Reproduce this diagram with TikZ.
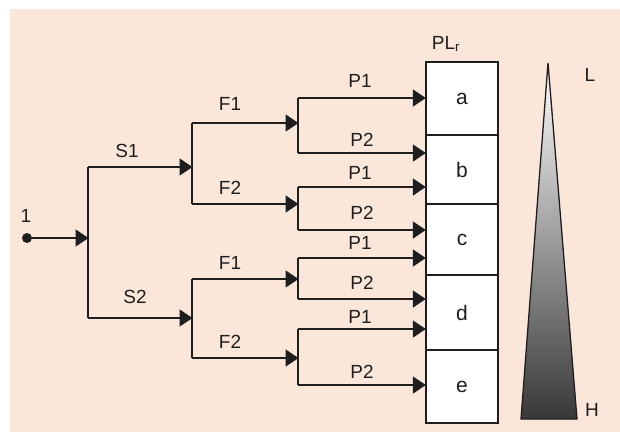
\documentclass[tikz,border=0pt]{standalone}
\usepackage{fontspec}
\setmainfont{Liberation Sans}
\usetikzlibrary{arrows.meta}
\definecolor{peach}{RGB}{251,230,218}
\definecolor{ink}{RGB}{30,30,30}
\tikzset{
  lbl/.style={font=\fontsize{19}{22}\selectfont, text=ink, inner sep=0pt},
  cellname/.style={font=\fontsize{21}{24}\selectfont, text=ink, inner sep=0pt},
  wire/.style={draw=ink, line width=1.5pt},
  arr/.style={wire, -{Triangle[length=13pt,width=17pt]}, shorten >=-0.5pt},
  cell/.style={draw=ink, line width=1.3pt, fill=white, minimum width=72pt, inner sep=0pt}
}
\begin{document}
\begin{tikzpicture}[x=1pt,y=-1pt]
\useasboundingbox (0,0) rectangle (620,432);
\fill[white] (0,0) rectangle (620,432);
\fill[peach] (10,9) rectangle (620,432);

% result cells a..e
\node[cell, minimum height=73pt] (a) at (462,98.5) {};
\node[cell, minimum height=69pt] (b) at (462,169.5) {};
\node[cell, minimum height=71pt] (c) at (462,239.5) {};
\node[cell, minimum height=75pt] (d) at (462,312.5) {};
\node[cell, minimum height=73pt] (e) at (462,386.5) {};
\node[cellname] at (a.center) {a};
\node[cellname] at (b.center) {b};
\node[cellname] at (c.center) {c};
\node[cellname] at (d.center) {d};
\node[cellname] at (e.center) {e};
\node[lbl] (plr) at (446,44) {PL\textsubscript{r}};

% risk scale
\coordinate (tA) at (548,63);
\coordinate (tL) at (521,419);
\coordinate (tR) at (577,419);
\shade[top color=white, bottom color=black!78] (tA) -- (tR) -- (tL) -- cycle;
\draw[ink, line width=1.3pt, line join=miter] (tA) -- (tR) -- (tL) -- cycle;
\node[lbl] (lowL) at (590,75) {L};
\node[lbl] (highH) at (592,410) {H};

% start point
\node[circle, fill=ink, inner sep=0pt, minimum size=10pt] (start) at (27,238) {};
\node[lbl] (one) at (26,216) {1};

% junctions
\coordinate (j0) at (88,238);
\coordinate (s1) at (88,167);  \coordinate (s2) at (88,318);
\coordinate (f1u) at (192,167); \coordinate (f1a) at (192,123); \coordinate (f1b) at (192,204);
\coordinate (f2u) at (192,318); \coordinate (f2a) at (192,279); \coordinate (f2b) at (192,358);
\coordinate (pA) at (298,123); \coordinate (pA1) at (298,98);  \coordinate (pA2) at (298,153);
\coordinate (pB) at (298,204); \coordinate (pB1) at (298,187); \coordinate (pB2) at (298,230);
\coordinate (pC) at (298,279); \coordinate (pC1) at (298,258); \coordinate (pC2) at (298,299);
\coordinate (pD) at (298,358); \coordinate (pD1) at (298,329); \coordinate (pD2) at (298,385);

% first level
\draw[arr] (start) -- (j0);
\draw[wire] (s1) -- (s2);
\draw[arr] (s1) -- (f1u);
\draw[arr] (s2) -- (f2u);
\node[lbl] at (127,151) {S1};
\node[lbl] at (135,297) {S2};

% second level
\draw[wire] (f1a) -- (f1b);
\draw[wire] (f2a) -- (f2b);
\draw[arr] (f1a) -- (pA);
\draw[arr] (f1b) -- (pB);
\draw[arr] (f2a) -- (pC);
\draw[arr] (f2b) -- (pD);
\node[lbl] at (230,104) {F1};
\node[lbl] at (230,188) {F2};
\node[lbl] at (230,263) {F1};
\node[lbl] at (230,342) {F2};

% third level
\draw[wire] (pA1) -- (pA2);
\draw[wire] (pB1) -- (pB2);
\draw[wire] (pC1) -- (pC2);
\draw[wire] (pD1) -- (pD2);
\draw[arr] (pA1) -- (pA1 -| a.west);
\draw[arr] (pA2) -- (pA2 -| b.west);
\draw[arr] (pB1) -- (pB1 -| b.west);
\draw[arr] (pB2) -- (pB2 -| c.west);
\draw[arr] (pC1) -- (pC1 -| c.west);
\draw[arr] (pC2) -- (pC2 -| d.west);
\draw[arr] (pD1) -- (pD1 -| d.west);
\draw[arr] (pD2) -- (pD2 -| e.west);
\node[lbl] at (360,81) {P1};
\node[lbl] at (362,140) {P2};
\node[lbl] at (360,173) {P1};
\node[lbl] at (362,213) {P2};
\node[lbl] at (360,243) {P1};
\node[lbl] at (362,283) {P2};
\node[lbl] at (360,317) {P1};
\node[lbl] at (362,372) {P2};
\end{tikzpicture}
\end{document}
